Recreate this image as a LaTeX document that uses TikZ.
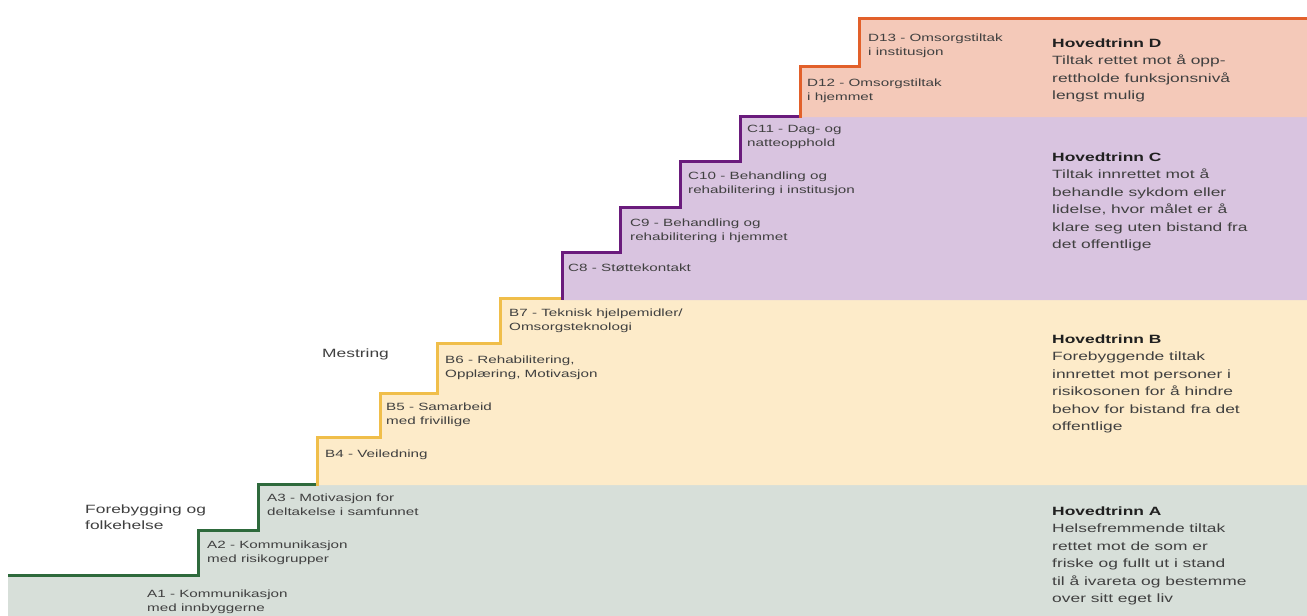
\documentclass[tikz,border=0pt]{standalone}
\usepackage{fontspec}
\newfontfamily\wide{Liberation Sans}[FakeStretch=1.45]
\definecolor{fillA}{HTML}{D7DFD9}
\definecolor{fillB}{HTML}{FDEBC9}
\definecolor{fillC}{HTML}{D9C4E0}
\definecolor{fillD}{HTML}{F4C9B9}
\definecolor{lineA}{HTML}{2E6A3C}
\definecolor{lineB}{HTML}{F0BE4A}
\definecolor{lineC}{HTML}{6A1B7C}
\definecolor{lineD}{HTML}{E2602A}
\definecolor{txt}{HTML}{404040}
\definecolor{head}{HTML}{202020}
\begin{document}
\begin{tikzpicture}[x=1pt,y=-1pt,
  stair/.style={line width=3pt, line join=miter},
  steplabel/.style={anchor=base west, inner sep=0pt, align=left, text=txt, font=\wide\fontsize{10.5}{14}\selectfont},
  phase/.style={anchor=base west, inner sep=0pt, align=left, text=txt, font=\wide\fontsize{12}{17.5}\selectfont},
  area/.style={anchor=base west, inner sep=0pt, align=left, text=txt, font=\wide\fontsize{12}{16}\selectfont}]
\useasboundingbox (0,0) rectangle (1307,616);
\fill[white] (0,0) rectangle (1307,616);
% band fills
\fill[fillA] (8,575) -| (198,530) -| (258,484) -- (1307,484) -- (1307,616) -- (8,616) -- cycle;
\fill[fillB] (317,485) -- (317,437) -| (380,393) -| (437,343) -| (500,298) -- (1307,298) -- (1307,485) -- cycle;
\fill[fillC] (562,300) -- (562,252) -| (620,207) -| (680,161) -| (740,116) -- (1307,116) -- (1307,300) -- cycle;
\fill[fillD] (800,117) -- (800,66) -| (859,18) -- (1307,18) -- (1307,117) -- cycle;
% stair outlines
\draw[stair, lineA] (8,575) -| (198,530) -| (258,484) -- (318.5,484);
\draw[stair, lineB] (317,485.5) -- (317,437) -| (380,393) -| (437,343) -| (500,298) -- (563.5,298);
\draw[stair, lineC] (562,299.5) -- (562,252) -| (620,207) -| (680,161) -| (740,116) -- (801.5,116);
\draw[stair, lineD] (800,117.5) -- (800,66) -| (859,18) -- (1307,18);
% step labels (anchor at baseline of last line)
\node[steplabel] (a1) at (147,611) {A1 - Kommunikasjon\\med innbyggerne};
\node[steplabel] (a2) at (207,562) {A2 - Kommunikasjon\\med risikogrupper};
\node[steplabel] (a3) at (267,515) {A3 - Motivasjon for\\deltakelse i samfunnet};
\node[steplabel] (b4) at (325,457) {B4 - Veiledning};
\node[steplabel] (b5) at (386,424) {B5 - Samarbeid\\med frivillige};
\node[steplabel] (b6) at (445,377) {B6 - Rehabilitering,\\Opplæring, Motivasjon};
\node[steplabel] (b7) at (509,330) {B7 - Teknisk hjelpemidler/\\Omsorgsteknologi};
\node[steplabel] (c8) at (568,271) {C8 - Støttekontakt};
\node[steplabel] (c9) at (630,240) {C9 - Behandling og\\rehabilitering i hjemmet};
\node[steplabel] (c10) at (688,193) {C10 - Behandling og\\rehabilitering i institusjon};
\node[steplabel] (c11) at (747,146) {C11 - Dag- og\\natteopphold};
\node[steplabel] (d12) at (807,100) {D12 - Omsorgstiltak\\i hjemmet};
\node[steplabel] (d13) at (868,55) {D13 - Omsorgstiltak\\i institusjon};
% area labels
\node[area] (forebygging) at (85,529) {Forebygging og\\folkehelse};
\node[area] (mestring) at (322,357) {Mestring};
% phase descriptions
\node[phase] (hD) at (1052,99.5) {{\bfseries\color{head}Hovedtrinn D}\\Tiltak rettet mot å opp-\\rettholde funksjonsnivå\\lengst mulig};
\node[phase] (hC) at (1052,248.5) {{\bfseries\color{head}Hovedtrinn C}\\Tiltak innrettet mot å\\behandle sykdom eller\\lidelse, hvor målet er å\\klare seg uten bistand fra\\det offentlige};
\node[phase] (hB) at (1052,430.5) {{\bfseries\color{head}Hovedtrinn B}\\Forebyggende tiltak\\innrettet mot personer i\\risikosonen for å hindre\\behov for bistand fra det\\offentlige};
\node[phase] (hA) at (1052,602.5) {{\bfseries\color{head}Hovedtrinn A}\\Helsefremmende tiltak\\rettet mot de som er\\friske og fullt ut i stand\\til å ivareta og bestemme\\over sitt eget liv};
\end{tikzpicture}
\end{document}
